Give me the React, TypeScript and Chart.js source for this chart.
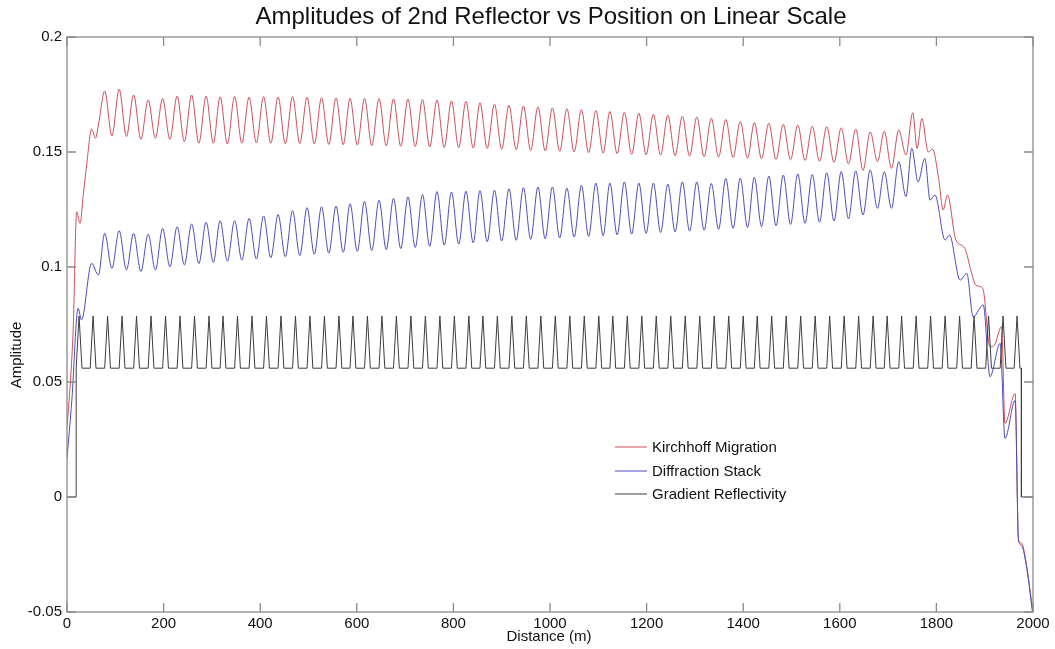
import React, { useEffect, useRef } from "react";
import { Chart, registerables } from "chart.js";

Chart.register(...registerables);

const FONT = "'Liberation Sans', Arial, sans-serif";

const chartTitle = "Amplitudes of 2nd Reflector vs Position on Linear Scale";
const xAxisTitle = "Distance (m)";
const yAxisTitle = "Amplitude";
const seriesNames = ["Kirchhoff Migration", "Diffraction Stack", "Gradient Reflectivity"];
const seriesColors = ["#d24b57", "#4b4bc3", "#3c3c3c"];

const xTicks = [0, 200, 400, 600, 800, 1000, 1200, 1400, 1600, 1800, 2000];
const yTicks = [-0.05, 0, 0.05, 0.1, 0.15, 0.2];

// Gradient reflectivity: flat level with narrow spikes at each reflector position
const reflectivityEdges = [19, 1976];
const reflectivityBase = 0.056;
const reflectivityPeak = 0.0787;
const spikeHalfWidth = 6;
const spikeCenters = [
  25, 54, 84, 114, 144, 174, 204, 234, 264, 294, 323, 353, 383, 413, 443, 473, 503,
  533, 563, 592, 622, 652, 682, 712, 742, 772, 802, 832, 861, 891, 921, 951, 981,
  1011, 1041, 1071, 1101, 1130, 1160, 1190, 1220, 1250, 1280, 1310, 1340, 1370,
  1400, 1429, 1459, 1489, 1519, 1549, 1579, 1609, 1639, 1669, 1698, 1728, 1758,
  1788, 1818, 1848, 1878, 1908, 1938, 1967,
];

// Oscillating section, alternating crest / trough positions (m)
const waveDistance = [
  78, 93, 108, 123, 138, 153, 168, 183, 198, 213, 228, 243, 258, 273, 288, 303,
  317, 332, 347, 362, 377, 392, 407, 422, 437, 452, 467, 482, 497, 512, 527, 542,
  557, 572, 586, 601, 616, 631, 646, 661, 676, 691, 706, 721, 736, 751, 766, 781,
  796, 811, 826, 841, 855, 870, 885, 900, 915, 930, 945, 960, 975, 990, 1005, 1020,
  1035, 1050, 1065, 1080, 1095, 1110, 1124, 1139, 1154, 1169, 1184, 1199, 1214, 1229,
  1244, 1259, 1274, 1289, 1304, 1319, 1334, 1349, 1364, 1379, 1394, 1409, 1423, 1438,
  1453, 1468, 1483, 1498, 1513, 1528, 1543, 1558, 1573, 1588, 1603, 1618, 1633, 1648,
  1663, 1678, 1692, 1707, 1722, 1737,
];

// Kirchhoff migration amplitude
const kirchhoffHeadDistance = [0, 7, 13, 20, 27, 34, 41, 51, 59, 66];
const kirchhoffHead = [0.0306, 0.05, 0.074, 0.124, 0.119, 0.132, 0.145, 0.16, 0.156, 0.163];
const kirchhoffWave = [
  0.1765, 0.157, 0.1773, 0.1567, 0.1748, 0.1555, 0.1726, 0.156, 0.1733, 0.1555,
  0.1743, 0.1545, 0.1748, 0.1538, 0.1743, 0.1538, 0.174, 0.1535, 0.1742, 0.1538,
  0.1738, 0.154, 0.1741, 0.1538, 0.1739, 0.1536, 0.1741, 0.1537, 0.1738, 0.1535,
  0.1736, 0.1533, 0.1735, 0.1532, 0.1733, 0.153, 0.1733, 0.1528, 0.1732, 0.1527,
  0.1731, 0.1525, 0.173, 0.1524, 0.1728, 0.1522, 0.1726, 0.152, 0.1722, 0.1519,
  0.172, 0.1517, 0.1714, 0.1516, 0.1708, 0.1512, 0.1703, 0.151, 0.17, 0.1507,
  0.1696, 0.1505, 0.1692, 0.1503, 0.1688, 0.15, 0.1684, 0.1497, 0.168, 0.1495,
  0.1676, 0.1493, 0.1672, 0.149, 0.1668, 0.1488, 0.1664, 0.1486, 0.166, 0.1484,
  0.1656, 0.1482, 0.1652, 0.148, 0.1647, 0.1478, 0.1642, 0.1476, 0.1632, 0.1473,
  0.1628, 0.1471, 0.1625, 0.1468, 0.162, 0.1466, 0.1617, 0.1463, 0.1612, 0.146,
  0.161, 0.1455, 0.1605, 0.1448, 0.16, 0.142, 0.1588, 0.1458, 0.159, 0.1429,
  0.1596, 0.1487,
];
const kirchhoffTailDistance = [
  1751, 1760, 1770, 1783, 1792, 1805, 1814, 1823, 1840, 1859, 1872, 1882, 1896,
  1911, 1920, 1935, 1942, 1963, 1970, 1976, 1987, 1999,
];
const kirchhoffTail = [
  0.1671, 0.1516, 0.1646, 0.15, 0.1512, 0.138, 0.1248, 0.1313, 0.112, 0.1081, 0.098,
  0.092, 0.0907, 0.0653, 0.066, 0.0741, 0.032, 0.045, -0.0187, -0.02, -0.03, -0.049,
];

// Diffraction stack amplitude
const diffractionHeadDistance = [0, 10, 23, 30, 51, 65];
const diffractionHead = [0.0168, 0.042, 0.082, 0.077, 0.1016, 0.0965];
const diffractionWave = [
  0.1146, 0.0994, 0.1158, 0.0987, 0.1146, 0.098, 0.1143, 0.0987, 0.1168, 0.1001,
  0.1175, 0.1009, 0.1187, 0.1015, 0.1195, 0.102, 0.1201, 0.1025, 0.1201, 0.103,
  0.1211, 0.1035, 0.1222, 0.104, 0.1228, 0.1045, 0.1245, 0.105, 0.1258, 0.1055,
  0.1262, 0.106, 0.1265, 0.1064, 0.1275, 0.1068, 0.1285, 0.1072, 0.129, 0.1076,
  0.1298, 0.108, 0.1305, 0.1085, 0.1315, 0.109, 0.1328, 0.1095, 0.1326, 0.11,
  0.133, 0.1105, 0.1332, 0.111, 0.1334, 0.1113, 0.134, 0.1116, 0.1345, 0.112,
  0.1348, 0.1123, 0.1348, 0.1126, 0.1343, 0.113, 0.1355, 0.1133, 0.1365, 0.1136,
  0.1365, 0.114, 0.137, 0.1143, 0.1365, 0.1146, 0.1365, 0.115, 0.136, 0.1153,
  0.137, 0.1156, 0.137, 0.116, 0.1363, 0.1164, 0.1385, 0.1168, 0.1386, 0.1172,
  0.139, 0.1176, 0.1395, 0.118, 0.14, 0.1185, 0.1405, 0.119, 0.1402, 0.1195,
  0.141, 0.12, 0.1415, 0.121, 0.1418, 0.1226, 0.1422, 0.1255, 0.1414, 0.1255,
  0.1458, 0.1306,
];
const diffractionTailDistance = [
  1749, 1762, 1776, 1787, 1797, 1818, 1827, 1849, 1863, 1876, 1897, 1911, 1932,
  1942, 1963, 1970, 1976, 1987, 1999,
];
const diffractionTail = [
  0.1516, 0.137, 0.1472, 0.1291, 0.1313, 0.1117, 0.1139, 0.0943, 0.0972, 0.0784,
  0.0835, 0.0523, 0.0668, 0.0255, 0.042, -0.019, -0.021, -0.031, -0.05,
];

type Pt = { x: number; y: number };

function pairUp(xs: number[], ys: number[]): Pt[] {
  return xs.map((x, i) => ({ x, y: ys[i] }));
}

function reflectivityPoints(): Pt[] {
  const pts: Pt[] = [
    { x: 0, y: 0 },
    { x: reflectivityEdges[0], y: 0 },
    { x: reflectivityEdges[0], y: reflectivityBase },
  ];
  spikeCenters.forEach((c) => {
    pts.push({ x: Math.max(c - spikeHalfWidth, reflectivityEdges[0]), y: reflectivityBase });
    pts.push({ x: c, y: reflectivityPeak });
    pts.push({ x: Math.min(c + spikeHalfWidth, reflectivityEdges[1]), y: reflectivityBase });
  });
  pts.push({ x: reflectivityEdges[1], y: reflectivityBase });
  pts.push({ x: reflectivityEdges[1], y: 0 });
  pts.push({ x: 2000, y: 0 });
  return pts;
}

const framePlugin = {
  id: "matlabFrame",
  afterDraw(chart: any) {
    const { ctx, chartArea } = chart;
    const { left, right, top, bottom } = chartArea;
    const xs = chart.scales.x;
    const ys = chart.scales.y;
    ctx.save();
    ctx.strokeStyle = "#8a8a8a";
    ctx.lineWidth = 1.3;
    ctx.strokeRect(left, top, right - left, bottom - top);
    const tl = 9;
    ctx.beginPath();
    xTicks.forEach((v) => {
      const px = xs.getPixelForValue(v);
      ctx.moveTo(px, bottom);
      ctx.lineTo(px, bottom - tl);
      ctx.moveTo(px, top);
      ctx.lineTo(px, top + tl);
    });
    yTicks.forEach((v) => {
      const py = ys.getPixelForValue(v);
      ctx.moveTo(left, py);
      ctx.lineTo(left + tl, py);
      ctx.moveTo(right, py);
      ctx.lineTo(right - tl, py);
    });
    ctx.stroke();

    // title and axis titles
    ctx.fillStyle = "#111";
    ctx.textAlign = "center";
    ctx.textBaseline = "middle";
    ctx.font = `24px ${FONT}`;
    ctx.fillText(chartTitle, 551, 17);
    ctx.font = `15px ${FONT}`;
    ctx.fillText(xAxisTitle, 549, 637);
    ctx.save();
    ctx.translate(17, 355);
    ctx.rotate(-Math.PI / 2);
    ctx.fillText(yAxisTitle, 0, 0);
    ctx.restore();

    // legend
    const rowsY = [447, 471, 494];
    ctx.textAlign = "left";
    ctx.font = `15px ${FONT}`;
    seriesNames.forEach((name, i) => {
      ctx.strokeStyle = seriesColors[i];
      ctx.lineWidth = 1;
      ctx.beginPath();
      ctx.moveTo(615, rowsY[i]);
      ctx.lineTo(647, rowsY[i]);
      ctx.stroke();
      ctx.fillStyle = "#111";
      ctx.fillText(name, 652, rowsY[i] + 1);
    });
    ctx.restore();
  },
};

export default function App() {
  const canvasRef = useRef<HTMLCanvasElement>(null);

  useEffect(() => {
    const canvas = canvasRef.current;
    if (!canvas) return;
    const kirchhoff = [
      ...pairUp(kirchhoffHeadDistance, kirchhoffHead),
      ...pairUp(waveDistance, kirchhoffWave),
      ...pairUp(kirchhoffTailDistance, kirchhoffTail),
    ];
    const diffraction = [
      ...pairUp(diffractionHeadDistance, diffractionHead),
      ...pairUp(waveDistance, diffractionWave),
      ...pairUp(diffractionTailDistance, diffractionTail),
    ];
    const chart = new Chart(canvas, {
      type: "line",
      data: {
        datasets: [
          {
            label: seriesNames[2],
            data: reflectivityPoints(),
            borderColor: seriesColors[2],
            borderWidth: 1,
            pointRadius: 0,
            tension: 0,
          },
          {
            label: seriesNames[1],
            data: diffraction,
            borderColor: seriesColors[1],
            borderWidth: 1,
            pointRadius: 0,
            cubicInterpolationMode: "monotone",
          },
          {
            label: seriesNames[0],
            data: kirchhoff,
            borderColor: seriesColors[0],
            borderWidth: 1,
            pointRadius: 0,
            cubicInterpolationMode: "monotone",
          },
        ],
      },
      options: {
        responsive: false,
        animation: false,
        parsing: false,
        layout: { padding: { top: 37, right: 22, left: 0, bottom: 0 } },
        plugins: {
          legend: { display: false },
          tooltip: { enabled: false },
          title: { display: false },
        },
        scales: {
          x: {
            type: "linear",
            min: 0,
            max: 2000,
            afterFit: (s: any) => {
              s.height = 37;
            },
            afterBuildTicks: (s: any) => {
              s.ticks = xTicks.map((v) => ({ value: v }));
            },
            ticks: {
              color: "#111",
              padding: 3,
              maxRotation: 0,
              autoSkip: false,
              font: { family: FONT, size: 15 },
              callback: (v: any) => String(Math.round(Number(v))),
            },
            grid: { display: false, drawTicks: false },
            border: { display: false },
          },
          y: {
            type: "linear",
            min: -0.05,
            max: 0.2,
            afterFit: (s: any) => {
              s.width = 67;
            },
            afterBuildTicks: (s: any) => {
              s.ticks = yTicks.map((v) => ({ value: v }));
            },
            ticks: {
              color: "#111",
              padding: 5,
              font: { family: FONT, size: 15 },
              callback: (v: any) => String(parseFloat(Number(v).toFixed(2))),
            },
            grid: { display: false, drawTicks: false },
            border: { display: false },
          },
        },
      },
      plugins: [framePlugin],
    });
    return () => chart.destroy();
  }, []);

  return (
    <div style={{ position: "absolute", left: 0, top: 0, width: 1055, height: 649, background: "#fff" }}>
      <canvas ref={canvasRef} width={1055} height={649} />
    </div>
  );
}
